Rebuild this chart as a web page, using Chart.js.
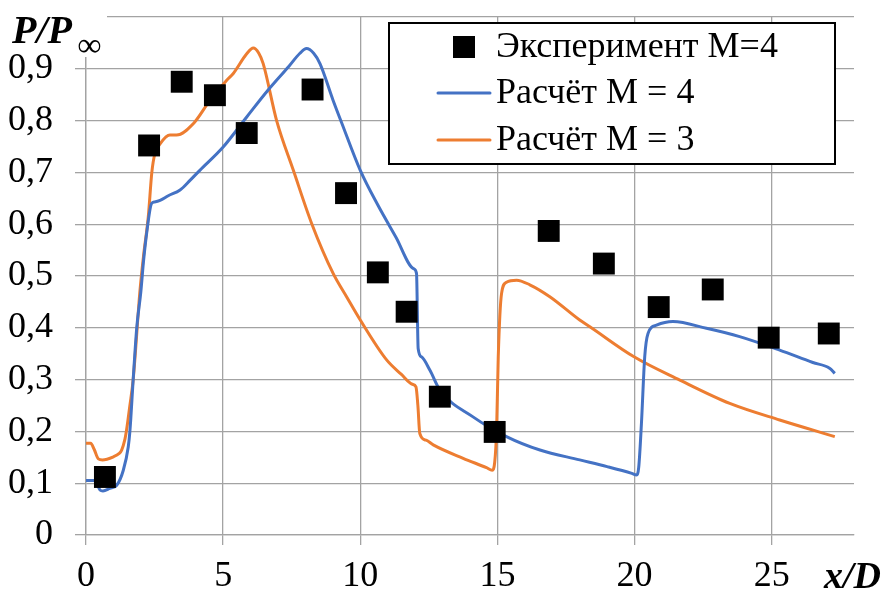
<!DOCTYPE html>
<html>
<head>
<meta charset="utf-8">
<script src="https://cdn.jsdelivr.net/npm/chart.js@4.4.1/dist/chart.umd.min.js"></script>
<style>
  html, body { margin: 0; padding: 0; background: #fff; }
  canvas { display: block; }
</style>
</head>
<body>
<canvas id="chart" width="884" height="595"></canvas>
<script>
// Experiment, M = 4
const expX = [0.69, 2.3, 3.49, 4.7, 5.86, 8.26, 9.48, 10.64, 11.69, 12.9, 14.9, 16.87, 18.88, 20.88, 22.85, 24.89, 27.08];
const expY = [0.112, 0.752, 0.875, 0.849, 0.776, 0.86, 0.66, 0.507, 0.431, 0.267, 0.199, 0.587, 0.524, 0.44, 0.474, 0.381, 0.389];

// Calculation, M = 4
const calc4X = [0, 0.33, 0.51, 0.62, 0.87, 1.12, 1.36, 1.54, 1.6, 1.72, 1.85, 2.0, 2.1, 2.21, 2.39, 2.5, 2.7, 3.0, 3.43, 3.8, 4.15, 5.0, 5.86, 6.64, 7.4, 7.8, 8.04, 8.3, 8.53, 9.01, 9.32, 10.0, 10.64, 11.3, 11.95, 12.05, 12.11, 12.23, 12.54, 12.9, 14.11, 15.33, 16.55, 18.0, 19.0, 19.9, 20.07, 20.15, 20.25, 20.37, 20.49, 20.8, 21.4, 22.62, 23.83, 25.29, 26.5, 27.11, 27.3];
const calc4Y = [0.105, 0.105, 0.087, 0.085, 0.09, 0.096, 0.125, 0.17, 0.2, 0.3, 0.4, 0.47, 0.53, 0.582, 0.64, 0.643, 0.646, 0.655, 0.666, 0.685, 0.704, 0.749, 0.807, 0.859, 0.905, 0.93, 0.939, 0.93, 0.91, 0.839, 0.796, 0.704, 0.637, 0.575, 0.514, 0.505, 0.36, 0.344, 0.318, 0.28, 0.228, 0.19, 0.164, 0.145, 0.132, 0.119, 0.116, 0.13, 0.215, 0.344, 0.389, 0.405, 0.412, 0.399, 0.383, 0.357, 0.333, 0.322, 0.312];

// Calculation, M = 3
const calc3X = [0, 0.17, 0.3, 0.45, 0.6, 1.0, 1.2, 1.3, 1.42, 1.48, 1.6, 1.72, 1.97, 2.1, 2.27, 2.4, 2.51, 2.7, 3.06, 3.3, 3.91, 4.52, 5.13, 5.37, 5.86, 6.1, 6.3, 6.46, 6.95, 7.56, 8.23, 9.01, 9.5, 10.0, 10.96, 11.5, 11.9, 12.03, 12.1, 12.17, 12.4, 12.66, 13.75, 14.6, 14.81, 14.9, 14.97, 15.03, 15.15, 15.33, 15.7, 16.18, 16.91, 18.0, 18.37, 19.98, 21.65, 23.47, 25.29, 27.3];
const calc3Y = [0.177, 0.177, 0.165, 0.147, 0.145, 0.151, 0.157, 0.164, 0.185, 0.203, 0.25, 0.3, 0.473, 0.54, 0.614, 0.7, 0.736, 0.755, 0.772, 0.772, 0.794, 0.839, 0.878, 0.891, 0.929, 0.94, 0.93, 0.91, 0.8, 0.704, 0.601, 0.505, 0.46, 0.415, 0.338, 0.31, 0.291, 0.286, 0.25, 0.196, 0.183, 0.174, 0.148, 0.13, 0.125, 0.14, 0.203, 0.344, 0.466, 0.488, 0.492, 0.483, 0.46, 0.415, 0.402, 0.344, 0.299, 0.254, 0.222, 0.19];

const seriesLabels = ["Эксперимент M=4", "Расчёт M = 4", "Расчёт M = 3"];
const xTicks = [0, 5, 10, 15, 20, 25];

const serif = "'Liberation Serif', 'Times New Roman', serif";
const gridColor = "#a3a3a3";

function toPoints(xs, ys) {
    return xs.map((x, i) => ({ x: x, y: ys[i] }));
}

// Axis titles, with a white patch behind the y title like in the original
const axisTitles = {
    id: "axisTitles",
    afterDraw(chart) {
        const ctx = chart.ctx;
        ctx.save();
        ctx.fillStyle = "#fff";
        ctx.fillRect(0, 0, 107, 46);
        ctx.fillRect(74, 0, 33, 57);
        ctx.fillStyle = "#000";
        ctx.textBaseline = "alphabetic";
        ctx.textAlign = "left";
        ctx.font = "italic bold 40px " + serif;
        ctx.fillText("P/P", 12, 43);
        ctx.font = "italic bold 34px " + serif;
        ctx.fillText("∞", 77, 56);
        ctx.font = "italic bold 38px " + serif;
        ctx.textAlign = "right";
        ctx.fillText("x/D", 881, 588);
        ctx.restore();
    }
};

// Legend box in the top right corner of the plot
const boxLegend = {
    id: "boxLegend",
    afterDatasetsDraw(chart) {
        const ctx = chart.ctx;
        const sets = chart.data.datasets;
        const left = 389, top = 23, right = 835, bottom = 164;
        const rows = [47, 93, 140];
        ctx.save();
        ctx.fillStyle = "#fff";
        ctx.fillRect(left, top, right - left, bottom - top);
        ctx.lineWidth = 2;
        ctx.strokeStyle = "#000";
        ctx.strokeRect(left, top, right - left, bottom - top);
        sets.forEach((ds, i) => {
            const y = rows[i];
            if (ds.showLine === false) {
                ctx.fillStyle = ds.backgroundColor;
                ctx.fillRect(453, y - 11, 22, 22);
            } else {
                ctx.strokeStyle = ds.borderColor;
                ctx.lineWidth = 3;
                ctx.lineCap = "round";
                ctx.beginPath();
                ctx.moveTo(438, y);
                ctx.lineTo(490, y);
                ctx.stroke();
            }
            ctx.fillStyle = "#000";
            ctx.font = "36px " + serif;
            ctx.textBaseline = "middle";
            ctx.textAlign = "left";
            ctx.fillText(ds.label, 496, y + 1);
        });
        ctx.restore();
    }
};

const ctx = document.getElementById("chart").getContext("2d");
const chart = new Chart(ctx, {
    type: "scatter",
    data: {
        datasets: [
            {
                label: seriesLabels[0],
                data: toPoints(expX, expY),
                showLine: false,
                pointStyle: "rect",
                pointRadius: 15.5,
                pointBorderWidth: 0,
                backgroundColor: "#000",
                borderColor: "#000",
                order: 0
            },
            {
                label: seriesLabels[1],
                data: toPoints(calc4X, calc4Y),
                showLine: true,
                borderColor: "#4472C4",
                backgroundColor: "#4472C4",
                borderWidth: 3,
                pointRadius: 0,
                cubicInterpolationMode: "monotone",
                order: 1
            },
            {
                label: seriesLabels[2],
                data: toPoints(calc3X, calc3Y),
                showLine: true,
                borderColor: "#ED7D31",
                backgroundColor: "#ED7D31",
                borderWidth: 3,
                pointRadius: 0,
                cubicInterpolationMode: "monotone",
                order: 2
            }
        ]
    },
    options: {
        responsive: false,
        animation: false,
        devicePixelRatio: 1,
        layout: { padding: { left: 0, top: 17, right: 30, bottom: 0 } },
        plugins: {
            legend: { display: false },
            tooltip: { enabled: false }
        },
        scales: {
            x: {
                type: "linear",
                min: 0,
                max: 28,
                afterBuildTicks: scale => {
                    scale.ticks = xTicks.map(v => ({ value: v }));
                },
                ticks: {
                    color: "#000",
                    font: { family: serif, size: 36 },
                    padding: 10,
                    maxRotation: 0
                },
                grid: { color: gridColor, lineWidth: 1.3, tickLength: 10 },
                border: { color: gridColor, width: 1.3 },
                afterFit: scale => {
                    scale.height = 60;
                    scale.paddingLeft = 0;
                    scale.paddingRight = 0;
                }
            },
            y: {
                min: 0,
                max: 1,
                ticks: {
                    stepSize: 0.1,
                    color: "#000",
                    font: { family: serif, size: 36 },
                    padding: 22,
                    callback: v => {
                        if (v >= 0.999) return "";
                        if (v === 0) return "0";
                        return v.toFixed(1).replace(".", ",");
                    }
                },
                grid: { color: gridColor, lineWidth: 1.3, tickLength: 11 },
                border: { color: gridColor, width: 1.3 },
                afterFit: scale => {
                    scale.width = 86;
                    scale.paddingTop = 0;
                    scale.paddingBottom = 0;
                }
            }
        }
    },
    plugins: [boxLegend, axisTitles]
});
</script>
</body>
</html>
